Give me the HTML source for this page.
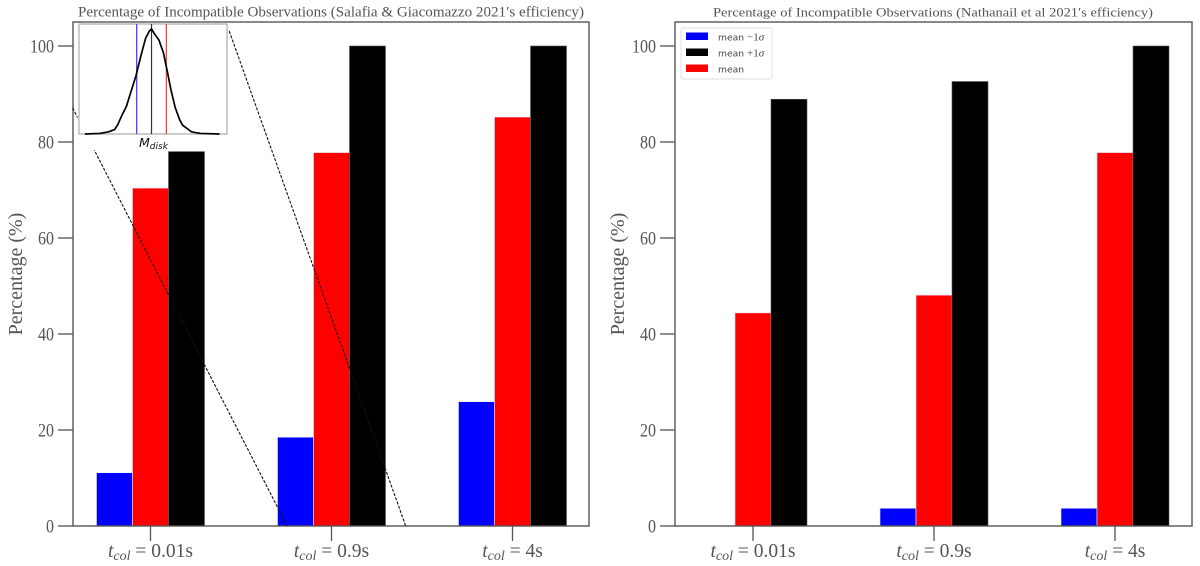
<!DOCTYPE html>
<html>
<head>
<meta charset="utf-8">
<style>
html,body{margin:0;padding:0;background:#fff;width:1200px;height:566px;overflow:hidden}
svg{display:block}
text{font-family:"Liberation Serif",serif;fill:#555}
.sans{font-family:"DejaVu Sans",sans-serif}
</style>
</head>
<body>
<svg id="chart" width="1200" height="566" viewBox="0 0 1200 566" xmlns="http://www.w3.org/2000/svg"></svg>
<script>
const categories = ['0.01', '0.9', '4'];
const yTicks = [0, 20, 40, 60, 80, 100];
const leftBlue = [11.1, 18.5, 25.9];
const leftRed = [70.4, 77.8, 85.2];
const leftBlack = [78.0, 100, 100];
const rightBlue = [0, 3.7, 3.7];
const rightRed = [44.4, 48.1, 77.8];
const rightBlack = [88.9, 92.6, 100];
const leftTitle = "Percentage of Incompatible Observations (Salafia & Giacomazzo 2021\u2032s efficiency)";
const rightTitle = "Percentage of Incompatible Observations (Nathanail et al 2021\u2032s efficiency)";
const insetX = [4, 14, 20, 24, 26, 29, 32, 35, 38.5, 42, 45, 47.5, 49, 51, 54, 57, 59.5, 62, 65, 68, 70, 73, 76, 82, 95];
const insetY = [0, 0.005, 0.02, 0.04, 0.08, 0.17, 0.25, 0.38, 0.53, 0.72, 0.87, 0.935, 0.955, 0.91, 0.855, 0.74, 0.58, 0.41, 0.24, 0.13, 0.08, 0.05, 0.02, 0.005, 0];
const insetLow = 39;
const insetMean = 49;
const insetHigh = 59;
const legendNames = ['mean ', 'mean ', 'mean'];
const legendOffsets = ['\u22121', '+1', ''];

const NS = 'http://www.w3.org/2000/svg';
const svg = document.getElementById('chart');
function mk(tag, attrs, parent) {
  const el = document.createElementNS(NS, tag);
  for (const k in attrs) el.setAttribute(k, attrs[k]);
  (parent || svg).appendChild(el);
  return el;
}
const yScale = v => 526 - v * 4.8;

function drawPanel(key, left, right, firstTick, titleText, titleLeft, titleWidth, titleSize, blue, red, black) {
  const g = mk('g', {});
  
  
  const xScale = i => firstTick + i * 181;
  const barW = 36;
  const series = [[blue, '#0000ff', -1.5, 'blue'], [red, '#ff0000', -0.5, 'red'], [black, '#000000', 0.5, 'black']];
  series.forEach(s => {
    s[0].forEach((v, i) => {
      const r = mk('rect', {
        x: xScale(i) + s[2] * barW,
        y: yScale(v),
        width: barW,
        height: yScale(0) - yScale(v),
        fill: s[1],
        stroke: s[3] === 'black' ? '#555' : '#e8e8ff',
        'stroke-width': 0.6
      }, g);
      
      
    });
  });
  const frame = mk('rect', {x: left, y: 22, width: right - left, height: 504, fill: 'none', stroke: '#555', 'stroke-width': 1.4}, g);
  
  
  yTicks.forEach(t => {
    const y = yScale(t);
    const l = mk('line', {x1: left - 15, x2: left, y1: y, y2: y, stroke: '#555', 'stroke-width': 1.3}, g);
    
    
    const tx = mk('text', {x: left - 19, y: y + 6.5, 'text-anchor': 'end', 'font-size': 19, textLength: String(t).length * 8, lengthAdjust: 'spacingAndGlyphs'}, g);
    tx.textContent = t;
    
    
  });
  categories.forEach((c, i) => {
    const x = xScale(i);
    const l = mk('line', {x1: x, x2: x, y1: 526, y2: 541, stroke: '#555', 'stroke-width': 1.3}, g);
    
    
    const tx = mk('text', {x: x, y: 557, 'text-anchor': 'middle', 'font-size': 19.5}, g);
    
    
    const a = mk('tspan', {'font-style': 'italic'}, tx); a.textContent = 't';
    const b = mk('tspan', {'font-style': 'italic', 'font-size': 14, dy: 3}, tx); b.textContent = 'col';
    const d = mk('tspan', {dy: -3}, tx); d.textContent = ' = ' + c + 's';
  });
  const yl = mk('text', {x: 0, y: 0, 'text-anchor': 'middle', 'font-size': 20, transform: 'translate(' + (left - 51) + ',274) rotate(-90)'}, g);
  yl.textContent = 'Percentage (%)';
  
  
  const tt = mk('text', {x: titleLeft, y: 16.5, 'font-size': titleSize, textLength: titleWidth, lengthAdjust: 'spacingAndGlyphs'}, g);
  tt.textContent = titleText;
  
  
}

drawPanel('left', 73, 589, 150.5, leftTitle, 78, 506, 14.2, leftBlue, leftRed, leftBlack);
drawPanel('right', 675, 1192, 753, rightTitle, 713, 440, 13, rightBlue, rightRed, rightBlack);

/* connector lines, placed in left-panel axis units (group index, percent) */
const connectorA = [[-0.43, 87.1], [0.755, 0]];
const connectorB = [[0.435, 103.1], [1.41, 0]];
const lx = i => 150.5 + i * 181;
[connectorA, connectorB].forEach((c, i) => {
  const l = mk('line', {x1: lx(c[0][0]), y1: yScale(c[0][1]), x2: lx(c[1][0]), y2: yScale(c[1][1]), stroke: '#111', 'stroke-width': 1.1, 'stroke-dasharray': '3 1.5'});
  
  
});

/* inset */
const inset = mk('g', {});


const cover = mk('rect', {x: 77.5, y: 23, width: 151, height: 127, fill: '#fff'}, inset);


const ix = v => 79 + v * 1.48;
const iy = v => 134 - v * 110;
const ibox = mk('rect', {x: 79, y: 24, width: 148, height: 110, fill: '#fff', stroke: '#aaa', 'stroke-width': 1.2}, inset);


[[insetLow, '#3333ff', 'blue'], [insetMean, '#333', 'black'], [insetHigh, '#ff3333', 'red']].forEach(v => {
  const l = mk('line', {x1: ix(v[0]), x2: ix(v[0]), y1: 24, y2: 134, stroke: v[1], 'stroke-width': 1.2}, inset);
  
  
});
const curve = mk('polyline', {points: insetX.map((x, i) => ix(x) + ',' + iy(insetY[i])).join(' '), fill: 'none', stroke: '#000', 'stroke-width': 1.7, 'stroke-linejoin': 'round'}, inset);


const ml = mk('text', {x: 139, y: 147, 'font-size': 11.5, 'font-style': 'italic', class: 'sans', style: 'fill:#111'}, inset);


const m1 = mk('tspan', {'font-size': 12.5}, ml); m1.textContent = 'M';
const m2 = mk('tspan', {'font-size': 9, dy: 2}, ml); m2.textContent = 'disk';

/* legend */
const lg = mk('g', {});


const lbox = mk('rect', {x: 681, y: 28, width: 91, height: 51, rx: 2, fill: '#fff', stroke: '#ddd', 'stroke-width': 0.9}, lg);


['#0000ff', '#000000', '#ff0000'].forEach((c, i) => {
  const y = 32.5 + i * 16;
  const p = mk('rect', {x: 686, y: y, width: 22, height: 7.5, fill: c}, lg);
  
  
  const t = mk('text', {x: 718, y: y + 8, 'font-size': 9.2, class: 'sans', style: 'fill:#444'}, lg);
  
  
  const n = mk('tspan', {}, t); n.textContent = legendNames[i];
  if (legendOffsets[i]) {
    const o = mk('tspan', {style: 'font-family:"Liberation Serif",serif', 'font-size': 11}, t); o.textContent = legendOffsets[i];
    const s = mk('tspan', {style: 'font-family:"Liberation Serif",serif', 'font-size': 11, 'font-style': 'italic'}, t); s.textContent = '\u03c3';
  }
});
</script>
</body>
</html>
